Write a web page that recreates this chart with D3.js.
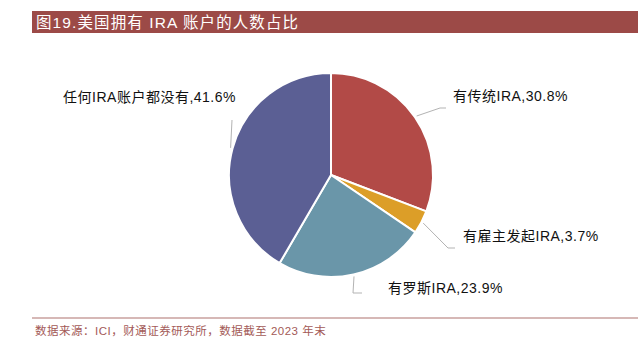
<!DOCTYPE html>
<html>
<head>
<meta charset="utf-8">
<script src="https://cdn.jsdelivr.net/npm/d3@7"></script>
<style>
  html, body { margin: 0; padding: 0; background: #fff; }
  svg { display: block; font-family: "Liberation Sans", Arial, "Noto Sans CJK SC", sans-serif; }
</style>
</head>
<body>
<svg id="chart" width="643" height="341"></svg>
<script>
// Share of US adults by IRA ownership (ICI, end of 2023)
const categories = ["有传统IRA", "有雇主发起IRA", "有罗斯IRA", "任何IRA账户都没有"];
const shares = [30.8, 3.7, 23.9, 41.6];
const colors = ["#b24a47", "#dc9e28", "#6a96a9", "#5b5f94"];

const titleText = "图19.美国拥有 IRA 账户的人数占比";
const sourceText = "数据来源：ICI，财通证券研究所，数据截至 2023 年末";

// Leader-line elbows and label placement, relative to the pie centre
const labelLayout = [
  { elbow: [109, -67], end: [115, -67], text: [122, -79], anchor: "start" },
  { elbow: [117, 73], end: [124, 73], text: [132, 61], anchor: "start" },
  { elbow: [22, 118], end: [31, 118], text: [57, 113], anchor: "start" },
  { elbow: [-99, -55], end: [-99, -55], text: [-95, -78], anchor: "end" }
];

const svg = d3.select("#chart");
const W = 643;

// Title bar
svg.append("rect")
  .attr("x", 32).attr("y", 11).attr("width", W - 32 - 5).attr("height", 22)
  .attr("fill", "#9c4a47");
svg.append("text")
  .attr("x", 36).attr("y", 28)
  .attr("fill", "#fff")
  .attr("font-size", 15.5)
  .attr("letter-spacing", 1.1)
  .text(titleText);

// Pie
const cx = 331, cy = 175, R = 102;
const g = svg.append("g").attr("transform", `translate(${cx},${cy})`);

const data = categories.map((c, i) => ({ name: c, value: shares[i], color: colors[i], layout: labelLayout[i] }));
const pie = d3.pie().sort(null).value(d => d.value).startAngle(0).endAngle(2 * Math.PI);
const arc = d3.arc().innerRadius(0).outerRadius(R);
const arcs = pie(data);

g.selectAll("path.slice")
  .data(arcs)
  .join("path")
  .attr("class", "slice")
  .attr("d", arc)
  .attr("fill", d => d.data.color)
  .attr("stroke", "#fff")
  .attr("stroke-width", 2)
  .attr("stroke-linejoin", "round");

// Leader lines from each slice's mid-angle
g.selectAll("polyline.leader")
  .data(arcs)
  .join("polyline")
  .attr("class", "leader")
  .attr("fill", "none")
  .attr("stroke", "#b3b3b3")
  .attr("stroke-width", 1)
  .attr("points", d => {
    const mid = (d.startAngle + d.endAngle) / 2;
    const p0 = [Math.sin(mid) * (R + 2), -Math.cos(mid) * (R + 2)];
    return [p0, d.data.layout.elbow, d.data.layout.end].map(p => p.join(",")).join(" ");
  });

// Category labels with their shares
g.selectAll("text.label")
  .data(arcs)
  .join("text")
  .attr("class", "label")
  .attr("x", d => d.data.layout.text[0])
  .attr("y", d => d.data.layout.text[1])
  .attr("dy", "0.35em")
  .attr("text-anchor", d => d.data.layout.anchor)
  .attr("font-size", 14)
  .attr("letter-spacing", 0.5)
  .attr("fill", "#111")
  .text(d => `${d.data.name},${d3.format(".1f")(d.data.value)}%`);

// Footer rule and source note
svg.append("line")
  .attr("x1", 32).attr("x2", W - 5)
  .attr("y1", 318).attr("y2", 318)
  .attr("stroke", "#c9a09e").attr("stroke-width", 1.5);
svg.append("text")
  .attr("x", 35).attr("y", 335)
  .attr("fill", "#a35a57")
  .attr("font-size", 11.5)
  .attr("letter-spacing", 0.5)
  .text(sourceText);
</script>
</body>
</html>
